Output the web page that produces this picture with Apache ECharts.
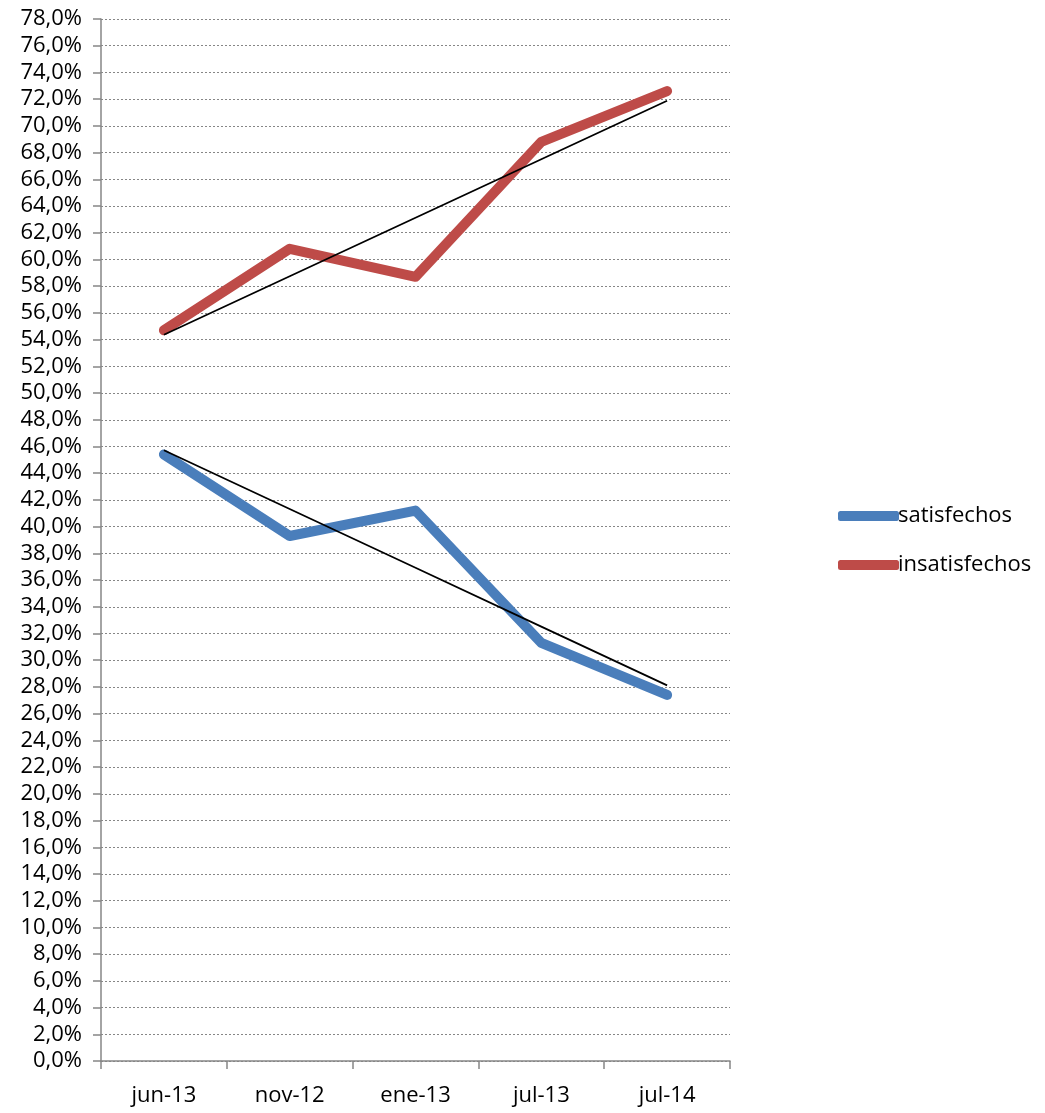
<!DOCTYPE html>
<html>
<head>
<meta charset="utf-8">
<script src="https://cdn.jsdelivr.net/npm/echarts@6/dist/echarts.min.js"></script>
<style>
  html, body { margin: 0; padding: 0; background: #fff; }
  #main { width: 1045px; height: 1113px; }
</style>
</head>
<body>
<div id="main"></div>
<script>
// datos
const categorias = ['jun-13', 'nov-12', 'ene-13', 'jul-13', 'jul-14'];
const satisfechos = [45.4, 39.3, 41.2, 31.3, 27.4];
const insatisfechos = [54.7, 60.8, 58.7, 68.8, 72.6];

// línea de tendencia lineal (mínimos cuadrados)
function tendencia(valores) {
  const n = valores.length;
  let sx = 0, sy = 0, sxy = 0, sxx = 0;
  valores.forEach((v, i) => {
    sx += i; sy += v; sxy += i * v; sxx += i * i;
  });
  const m = (n * sxy - sx * sy) / (n * sxx - sx * sx);
  const b = (sy - m * sx) / n;
  return valores.map((v, i) => +(b + m * i).toFixed(3));
}

const gris = '#868686';
const fuente = "'Open Sans', 'Liberation Sans', sans-serif";

const chart = echarts.init(document.getElementById('main'), null, { renderer: 'canvas' });

const option = {
  animation: false,
  backgroundColor: '#fff',
  textStyle: { fontFamily: fuente },
  grid: { left: 101, right: 315, top: 19, bottom: 52 },
  legend: {
    orient: 'vertical',
    left: 833,
    top: 500,
    itemWidth: 61,
    itemHeight: 10,
    itemGap: 27,
    icon: 'roundRect',
    data: ['satisfechos', 'insatisfechos'],
    textStyle: { fontSize: 22, color: '#000', padding: [0, 0, 0, -6], fontFamily: fuente }
  },
  xAxis: {
    type: 'category',
    data: categorias,
    boundaryGap: true,
    axisLine: { lineStyle: { color: gris, width: 1.5 } },
    axisTick: { show: true, length: 8, lineStyle: { color: gris, width: 1.5 } },
    axisLabel: { fontSize: 22, color: '#000', margin: 24, fontFamily: fuente },
    splitLine: { show: false }
  },
  yAxis: {
    type: 'value',
    min: 0,
    max: 78,
    interval: 2,
    axisLine: { show: true, lineStyle: { color: gris, width: 1.5 } },
    axisTick: { show: true, length: 8, lineStyle: { color: gris, width: 1.5 } },
    axisLabel: {
      fontSize: 22,
      color: '#000',
      margin: 19,
      fontFamily: fuente,
      formatter: v => v.toFixed(1).replace('.', ',') + '%'
    },
    splitLine: { show: true, lineStyle: { color: gris, type: [2, 2], width: 1 } }
  },
  series: [
    {
      name: 'satisfechos',
      type: 'line',
      data: satisfechos,
      symbol: 'none',
      color: '#4A7EBB',
      lineStyle: { width: 10, color: '#4A7EBB', cap: 'round', join: 'round' },
      z: 2
    },
    {
      name: 'insatisfechos',
      type: 'line',
      data: insatisfechos,
      symbol: 'none',
      color: '#BE4B48',
      lineStyle: { width: 10, color: '#BE4B48', cap: 'round', join: 'round' },
      z: 2
    },
    {
      name: 'tendencia satisfechos',
      type: 'line',
      data: tendencia(satisfechos),
      symbol: 'none',
      lineStyle: { width: 1.8, color: '#000' },
      z: 3
    },
    {
      name: 'tendencia insatisfechos',
      type: 'line',
      data: tendencia(insatisfechos),
      symbol: 'none',
      lineStyle: { width: 1.8, color: '#000' },
      z: 3
    }
  ]
};

chart.setOption(option);
</script>
</body>
</html>
